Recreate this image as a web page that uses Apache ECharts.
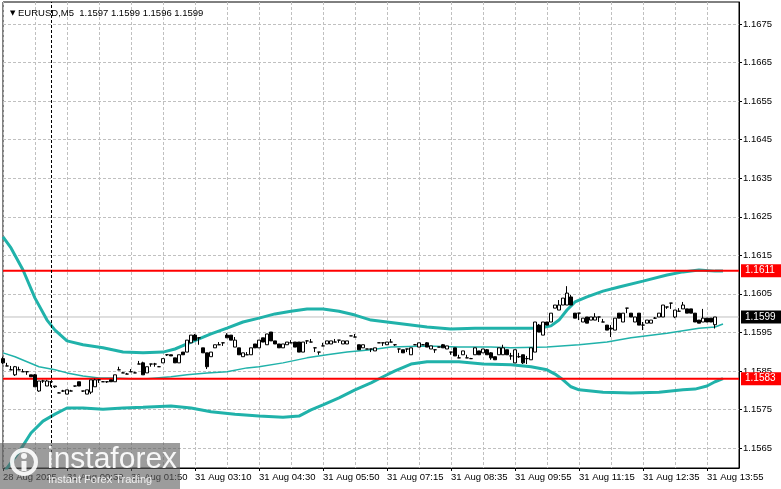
<!DOCTYPE html>
<html lang="en">
<head>
<meta charset="UTF-8">
<title>EURUSD,M5</title>
<script src="https://cdn.jsdelivr.net/npm/echarts@6/dist/echarts.min.js"></script>
<style>
  html, body { margin: 0; padding: 0; background: #fff; }
  #chart { width: 781px; height: 489px; }
</style>
</head>
<body>
<div id="chart"></div>
<script>
// right price scale
var yTicks = [1.1565, 1.1575, 1.1585, 1.1595, 1.1605, 1.1615, 1.1625, 1.1635, 1.1645, 1.1655, 1.1665, 1.1675];
var yMin = 1.155983, yMax = 1.168071;

// time scale: one label every 16 bars
var timeLabels = ['28 Aug 2025', '31 Aug 00:30', '31 Aug 01:50', '31 Aug 03:10', '31 Aug 04:30', '31 Aug 05:50',
    '31 Aug 07:15', '31 Aug 08:35', '31 Aug 09:55', '31 Aug 11:15', '31 Aug 12:35', '31 Aug 13:55'];
var barSlots = 185;
var daySeparator = 12;

// levels
var resistance = 1.1611;
var support = 1.1583;
var bid = 1.1599;

// M5 candles: [open, close, low, high]
var candles = [
    [1.15882,1.15871,1.15868,1.15887],[1.15863,1.15863,1.15863,1.15871],[1.15853,1.15853,1.15853,1.15863],[1.15840,1.15861,1.15837,1.15863],
    [1.15853,1.15853,1.15853,1.15861],[1.15848,1.15848,1.15848,1.15855],[1.15848,1.15848,1.15840,1.15848],[1.15840,1.15835,1.15835,1.15840],
    [1.15840,1.15809,1.15809,1.15842],[1.15798,1.15824,1.15796,1.15824],[1.15824,1.15824,1.15819,1.15827],[1.15811,1.15824,1.15811,1.15827],
    [1.15822,1.15822,1.15809,1.15822],[1.15809,1.15811,1.15806,1.15811],[1.15793,1.15793,1.15793,1.15795],[1.15798,1.15798,1.15796,1.15801],
    [1.15790,1.15801,1.15790,1.15801],[1.15798,1.15798,1.15798,1.15801],[1.15811,1.15811,1.15809,1.15811],[1.15822,1.15811,1.15811,1.15822],
    [1.15798,1.15798,1.15796,1.15798],[1.15790,1.15801,1.15790,1.15801],[1.15795,1.15827,1.15790,1.15827],[1.15809,1.15827,1.15809,1.15830],
    [1.15827,1.15827,1.15819,1.15827],[1.15822,1.15822,1.15822,1.15824],[1.15822,1.15822,1.15819,1.15822],[1.15827,1.15822,1.15822,1.15827],
    [1.15822,1.15840,1.15822,1.15840],[1.15853,1.15853,1.15853,1.15861],[1.15845,1.15845,1.15845,1.15848],[1.15842,1.15842,1.15842,1.15845],
    [1.15848,1.15848,1.15848,1.15855],[1.15845,1.15845,1.15845,1.15848],[1.15868,1.15868,1.15868,1.15876],[1.15871,1.15840,1.15840,1.15874],
    [1.15845,1.15861,1.15845,1.15861],[1.15868,1.15868,1.15861,1.15868],[1.15868,1.15868,1.15861,1.15871],[1.15861,1.15861,1.15861,1.15863],
    [1.15871,1.15882,1.15871,1.15882],[1.15892,1.15892,1.15889,1.15892],[1.15892,1.15889,1.15889,1.15892],[1.15884,1.15871,1.15871,1.15884],
    [1.15871,1.15892,1.15871,1.15892],[1.15899,1.15892,1.15892,1.15899],[1.15899,1.15930,1.15899,1.15930],[1.15923,1.15943,1.15923,1.15943],
    [1.15943,1.15930,1.15930,1.15946],[1.15936,1.15936,1.15918,1.15936],[1.15910,1.15897,1.15897,1.15910],[1.15897,1.15861,1.15855,1.15897],
    [1.15887,1.15899,1.15887,1.15899],[1.15910,1.15918,1.15910,1.15918],[1.15918,1.15918,1.15918,1.15925],[1.15923,1.15923,1.15915,1.15923],
    [1.15943,1.15936,1.15936,1.15948],[1.15943,1.15930,1.15930,1.15943],[1.15912,1.15930,1.15912,1.15938],[1.15910,1.15892,1.15892,1.15910],
    [1.15887,1.15897,1.15887,1.15897],[1.15892,1.15892,1.15892,1.15899],[1.15892,1.15910,1.15892,1.15910],[1.15920,1.15910,1.15910,1.15920],
    [1.15910,1.15930,1.15910,1.15930],[1.15936,1.15925,1.15925,1.15936],[1.15918,1.15946,1.15918,1.15946],[1.15951,1.15928,1.15928,1.15951],
    [1.15928,1.15920,1.15920,1.15928],[1.15920,1.15910,1.15910,1.15920],[1.15910,1.15920,1.15910,1.15920],[1.15918,1.15925,1.15918,1.15925],
    [1.15923,1.15923,1.15923,1.15930],[1.15925,1.15912,1.15912,1.15925],[1.15925,1.15899,1.15899,1.15925],[1.15899,1.15925,1.15899,1.15925],
    [1.15928,1.15928,1.15920,1.15928],[1.15925,1.15925,1.15925,1.15933],[1.15910,1.15910,1.15899,1.15910],[1.15899,1.15899,1.15892,1.15899],
    [1.15915,1.15915,1.15915,1.15923],[1.15920,1.15928,1.15920,1.15928],[1.15920,1.15928,1.15920,1.15928],[1.15925,1.15925,1.15925,1.15933],
    [1.15930,1.15930,1.15923,1.15930],[1.15920,1.15928,1.15920,1.15928],[1.15920,1.15928,1.15920,1.15928],[1.15941,1.15941,1.15941,1.15941],
    [1.15938,1.15938,1.15938,1.15946],[1.15918,1.15905,1.15905,1.15918],[1.15910,1.15918,1.15910,1.15918],[1.15907,1.15907,1.15907,1.15907],
    [1.15907,1.15907,1.15899,1.15907],[1.15902,1.15910,1.15902,1.15910],[1.15923,1.15923,1.15923,1.15923],[1.15923,1.15923,1.15915,1.15923],
    [1.15918,1.15925,1.15918,1.15925],[1.15925,1.15925,1.15925,1.15933],[1.15918,1.15918,1.15915,1.15918],[1.15907,1.15907,1.15897,1.15907],
    [1.15905,1.15897,1.15897,1.15905],[1.15907,1.15907,1.15899,1.15907],[1.15892,1.15910,1.15892,1.15910],[1.15918,1.15918,1.15918,1.15920],
    [1.15912,1.15923,1.15912,1.15923],[1.15918,1.15918,1.15918,1.15920],[1.15923,1.15912,1.15912,1.15925],[1.15907,1.15915,1.15907,1.15915],
    [1.15905,1.15905,1.15897,1.15905],[1.15912,1.15912,1.15912,1.15912],[1.15918,1.15910,1.15910,1.15920],[1.15907,1.15915,1.15907,1.15915],
    [1.15899,1.15899,1.15892,1.15899],[1.15910,1.15889,1.15889,1.15910],[1.15884,1.15884,1.15884,1.15892],[1.15892,1.15902,1.15892,1.15902],
    [1.15884,1.15884,1.15884,1.15892],[1.15882,1.15882,1.15882,1.15884],[1.15892,1.15910,1.15892,1.15910],[1.15902,1.15892,1.15892,1.15902],
    [1.15897,1.15907,1.15897,1.15907],[1.15905,1.15892,1.15892,1.15907],[1.15897,1.15884,1.15879,1.15899],[1.15887,1.15879,1.15879,1.15887],
    [1.15892,1.15910,1.15892,1.15910],[1.15892,1.15910,1.15892,1.15918],[1.15905,1.15892,1.15892,1.15905],[1.15889,1.15889,1.15879,1.15897],
    [1.15871,1.15905,1.15871,1.15905],[1.15887,1.15887,1.15884,1.15897],[1.15892,1.15871,1.15868,1.15892],[1.15882,1.15882,1.15868,1.15889],
    [1.15879,1.15910,1.15879,1.15910],[1.15899,1.15977,1.15899,1.15977],[1.15969,1.15951,1.15951,1.15972],[1.15943,1.15977,1.15943,1.15977],
    [1.15977,1.15969,1.15969,1.15977],[1.15977,1.16000,1.15977,1.16000],[1.16013,1.16021,1.16013,1.16021],[1.16008,1.16021,1.16008,1.16034],
    [1.16021,1.16039,1.16021,1.16039],[1.16021,1.16052,1.16021,1.16070],[1.16042,1.16021,1.16021,1.16047],[1.16000,1.15987,1.15987,1.16000],
    [1.16000,1.16000,1.15982,1.16000],[1.15977,1.15987,1.15977,1.15987],[1.15990,1.15974,1.15974,1.15990],[1.15982,1.15990,1.15982,1.15990],
    [1.15982,1.15990,1.15982,1.16000],[1.15990,1.15990,1.15977,1.15990],[1.15977,1.15977,1.15977,1.15985],[1.15969,1.15956,1.15956,1.15969],
    [1.15961,1.15959,1.15938,1.15969],[1.15956,1.15987,1.15956,1.15987],[1.16000,1.15987,1.15987,1.16000],[1.15977,1.16000,1.15977,1.16000],
    [1.16013,1.16013,1.16000,1.16013],[1.16000,1.15990,1.15990,1.16000],[1.15977,1.15990,1.15977,1.15990],[1.16000,1.15969,1.15969,1.16000],
    [1.15969,1.15969,1.15956,1.15977],[1.15974,1.15982,1.15974,1.15982],[1.15974,1.15982,1.15974,1.15982],[1.15987,1.15987,1.15985,1.15990],
    [1.15990,1.16000,1.15990,1.16000],[1.15990,1.16021,1.15990,1.16021],[1.16016,1.16016,1.16011,1.16016],[1.16026,1.16026,1.16011,1.16026],
    [1.15990,1.16008,1.15987,1.16008],[1.16005,1.16005,1.16005,1.16013],[1.16011,1.16021,1.16011,1.16029],[1.16011,1.16000,1.16000,1.16011],
    [1.16011,1.16000,1.16000,1.16011],[1.16000,1.15977,1.15977,1.16000],[1.15982,1.15974,1.15974,1.15982],[1.15977,1.15987,1.15977,1.16011],
    [1.15987,1.15977,1.15977,1.15987],[1.15987,1.15977,1.15977,1.15987],[1.1597,1.1599,1.1596,1.1599]
];

// Bollinger bands, read at [bar, price]
var upperBand = [[0,1.16198],[2,1.16169],[5,1.16112],[8,1.16039],[11,1.15982],[13,1.15956],[16,1.15928],[20,1.15918],[25,1.15910],
    [30,1.15899],[35,1.15897],[40,1.15899],[43,1.15907],[46,1.15920],[49,1.15933],[52,1.15946],[56,1.15961],[60,1.15977],[64,1.15987],
    [68,1.15998],[72,1.16005],[76,1.16011],[80,1.16011],[84,1.16005],[88,1.15995],[92,1.15982],[96,1.15977],[100,1.15972],[106,1.15964],
    [112,1.15959],[118,1.15961],[124,1.15961],[130,1.15961],[134,1.15961],[137,1.15967],[139,1.15982],[141,1.16008],[143,1.16029],
    [146,1.16042],[150,1.16057],[154,1.16068],[160,1.16083],[166,1.16099],[170,1.16107],[174,1.16112],[178,1.16109],[180,1.16109]];
var middleBand = [[0,1.15897],[3,1.15887],[6,1.15874],[9,1.15861],[13,1.15853],[16,1.15845],[20,1.15837],[24,1.15832],[28,1.15832],
    [32,1.15830],[36,1.15830],[42,1.15835],[46,1.15840],[51,1.15845],[56,1.15848],[61,1.15858],[64,1.15861],[70,1.15871],[76,1.15884],
    [81,1.15892],[86,1.15899],[92,1.15905],[97,1.15912],[106,1.15915],[114,1.15912],[122,1.15912],[127,1.15910],[136,1.15912],
    [144,1.15918],[151,1.15925],[157,1.15936],[166,1.15948],[174,1.15961],[178,1.15964],[180,1.15972]];
var lowerBand = [[0,1.15583],[1,1.15598],[4,1.15640],[7,1.15689],[10,1.15720],[13,1.15738],[16,1.15754],[20,1.15754],[25,1.15751],
    [30,1.15754],[35,1.15756],[42,1.15759],[47,1.15754],[52,1.15744],[58,1.15738],[64,1.15733],[70,1.15730],[74,1.15733],[77,1.15749],
    [80,1.15762],[84,1.15780],[88,1.15801],[92,1.15819],[95,1.15835],[98,1.15850],[102,1.15868],[106,1.15874],[114,1.15874],
    [120,1.15868],[127,1.15866],[132,1.15861],[136,1.15853],[138,1.15842],[140,1.15827],[142,1.15809],[144,1.15801],[150,1.15795],
    [157,1.15793],[164,1.15795],[170,1.15801],[173,1.15803],[176,1.15811],[178,1.15822],[180,1.15830]];

var bars = [];
for (var i = 0; i < barSlots; i++) bars.push(i);

var font = 'Liberation Sans';
var teal = '#20b2aa';
var gridGray = '#c0c0c0';

// horizontal level across the whole chart with its price box on the scale
function levelSeries(value, lineColor, lineWidth, boxColor, z) {
    return {
        type: 'line',
        data: [[0, value], [barSlots - 1, value]],
        showSymbol: false, silent: true, z: z,
        lineStyle: {color: lineColor, width: lineWidth},
        endLabel: {
            show: true, distance: 2,
            formatter: value.toFixed(4),
            color: '#fff', backgroundColor: boxColor,
            fontFamily: font, fontSize: 10, padding: [2, 8, 1, 4]
        }
    };
}

var chart = echarts.init(document.getElementById('chart'));
chart.setOption({
    animation: false,
    backgroundColor: '#fff',
    textStyle: {fontFamily: font},
    title: {
        left: 5, top: 3,
        text: '{tri|▼} EURUSD,M5  1.1597 1.1599 1.1596 1.1599',
        textStyle: {
            fontFamily: font, fontSize: 9.5, fontWeight: 'normal', color: '#000',
            rich: {tri: {fontFamily: 'DejaVu Sans', fontSize: 7, color: '#000'}}
        }
    },
    grid: {left: 3, right: 42, top: 2, bottom: 21, show: true, borderColor: '#000', borderWidth: 1},
    xAxis: {
        type: 'category',
        data: bars,
        boundaryGap: false,
        axisLine: {lineStyle: {color: '#000', width: 1}},
        axisTick: {show: true, interval: 15, length: 3, lineStyle: {color: '#000'}},
        axisLabel: {
            interval: 15, align: 'left', margin: 4,
            color: '#000', fontFamily: font, fontSize: 9.5,
            formatter: function (v, idx) { return timeLabels[idx / 16] || ''; }
        },
        splitLine: {show: true, interval: 7, lineStyle: {color: gridGray, type: [3, 2], width: 1}}
    },
    yAxis: {
        type: 'value',
        position: 'right',
        min: yMin, max: yMax,
        scale: true,
        axisLine: {show: true, lineStyle: {color: '#000', width: 1}},
        axisTick: {show: true, length: 3, customValues: yTicks, lineStyle: {color: '#000'}},
        axisLabel: {
            customValues: yTicks, margin: 4,
            color: '#000', fontFamily: font, fontSize: 9.5,
            formatter: function (v) { return v.toFixed(4); }
        },
        splitLine: {show: true, lineStyle: {color: gridGray, type: [3, 2], width: 1}}
    },
    series: [
        levelSeries(bid, gridGray, 1, '#000', 1),
        {
            type: 'line', data: lowerBand, showSymbol: false, silent: true, z: 2,
            lineStyle: {color: teal, width: 3}
        },
        {
            type: 'line', data: upperBand, showSymbol: false, silent: true, z: 2,
            lineStyle: {color: teal, width: 3}
        },
        {
            type: 'line', data: middleBand, showSymbol: false, silent: true, z: 2,
            lineStyle: {color: teal, width: 1.5}
        },
        levelSeries(resistance, '#ff0000', 2, '#ff0000', 3),
        levelSeries(support, '#ff0000', 2, '#ff0000', 3),
        {
            type: 'candlestick',
            data: candles,
            barWidth: 3,
            z: 4,
            itemStyle: {color: '#fff', color0: '#000', borderColor: '#000', borderColor0: '#000', borderWidth: 1},
            markLine: {
                silent: true, symbol: 'none', animation: false,
                data: [
                    {xAxis: daySeparator, lineStyle: {color: '#000', width: 1, type: [3, 2]}, label: {show: false}}
                ]
            }
        }
    ],
    graphic: [
        {type: 'rect', left: 0, top: 443, shape: {width: 180, height: 46}, style: {fill: 'rgba(95,95,95,0.62)'}, z: 100},
        {type: 'circle', shape: {cx: 24, cy: 462, r: 12}, style: {fill: 'none', stroke: 'rgba(255,255,255,0.9)', lineWidth: 4}, z: 101},
        {type: 'circle', shape: {cx: 24, cy: 456, r: 3}, style: {fill: 'rgba(255,255,255,0.9)'}, z: 101},
        {type: 'rect', shape: {x: 21.5, y: 461, width: 5, height: 10}, style: {fill: 'rgba(255,255,255,0.9)'}, z: 101},
        {type: 'text', left: 47, top: 445, style: {text: 'instaforex', fill: 'rgba(255,255,255,0.92)', font: '30px "Liberation Sans"'}, z: 101},
        {type: 'text', left: 48, top: 474, style: {text: 'Instant Forex Trading', fill: 'rgba(255,255,255,0.85)', font: '11px "Liberation Sans"'}, z: 101}
    ]
});
</script>
</body>
</html>
